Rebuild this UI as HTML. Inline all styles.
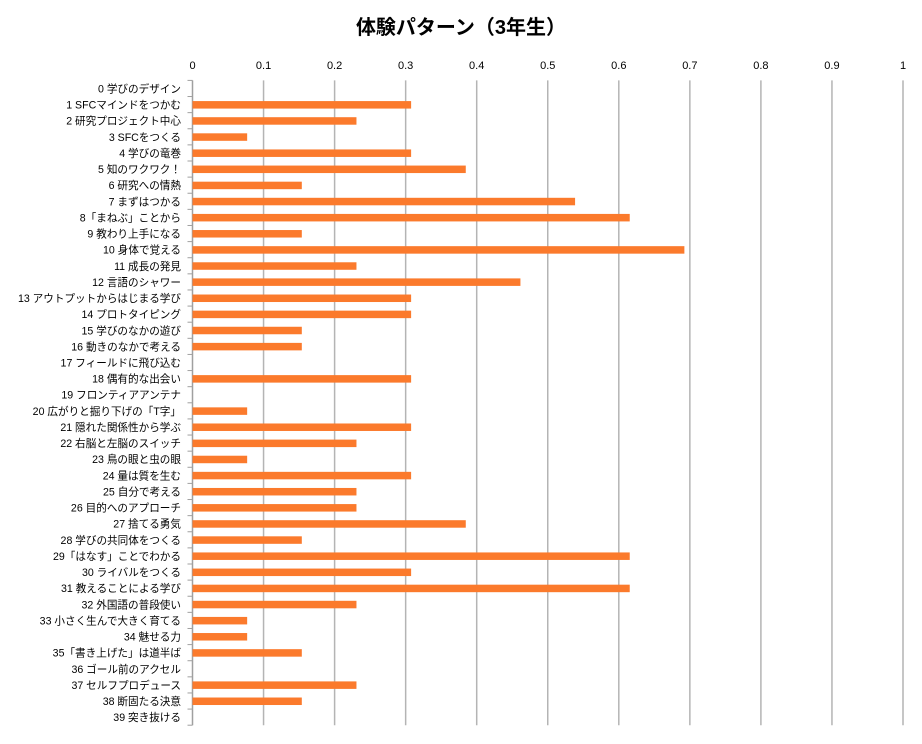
<!DOCTYPE html>
<html><head><meta charset="utf-8"><style>
body{margin:0;background:#fff;}
text{font-family:"Liberation Sans","Noto Sans CJK JP",sans-serif;}
</style></head><body>
<svg id="svg" width="922" height="739" xmlns="http://www.w3.org/2000/svg">
<rect width="922" height="739" fill="#fff"/>
<text x="461" y="34" text-anchor="middle" font-size="20" font-weight="bold" fill="#000">体験パターン（3年生）</text>
</svg>
<script>
(function(){
const labels=["0  学びのデザイン","1  SFCマインドをつかむ","2  研究プロジェクト中心","3  SFCをつくる","4  学びの竜巻","5  知のワクワク！","6  研究への情熱","7  まずはつかる","8「まねぶ」ことから","9  教わり上手になる","10 身体で覚える","11 成長の発見","12 言語のシャワー","13 アウトプットからはじまる学び","14 プロトタイピング","15 学びのなかの遊び","16 動きのなかで考える","17 フィールドに飛び込む","18 偶有的な出会い","19 フロンティアアンテナ","20 広がりと掘り下げの「T字」","21 隠れた関係性から学ぶ","22 右脳と左脳のスイッチ","23 鳥の眼と虫の眼","24 量は質を生む","25 自分で考える","26 目的へのアプローチ","27 捨てる勇気","28 学びの共同体をつくる","29「はなす」ことでわかる","30 ライバルをつくる","31 教えることによる学び","32 外国語の普段使い","33 小さく生んで大きく育てる","34 魅せる力","35「書き上げた」は道半ば","36 ゴール前のアクセル","37 セルフプロデュース","38 断固たる決意","39 突き抜ける"];
const v=[0,4,3,1,4,5,2,7,8,2,9,3,6,4,4,2,2,0,4,0,1,4,3,1,4,3,3,5,2,8,4,8,3,1,1,2,0,3,2,0];
const x0=192.5,W=710.5,T=80.4,step=16.12,B=T+40*step;
let s="";
for(let i=0;i<=10;i++){const x=x0+W*i/10;
 if(i>0)s+=`<line x1="${x}" y1="${T}" x2="${x}" y2="${B}" stroke="#b4b4b4" stroke-width="1.5"/>`;
 s+=`<text x="${x}" y="69" text-anchor="middle" font-size="11">${i==0?"0":i==10?"1":"0."+i}</text>`;}
s+=`<line x1="${x0}" y1="${T}" x2="${x0}" y2="${B}" stroke="#a0a0a0" stroke-width="1.5"/>`;
for(let i=0;i<=40;i++){const y=T+i*step;s+=`<line x1="${x0-5}" y1="${y}" x2="${x0}" y2="${y}" stroke="#a0a0a0"/>`;}
labels.forEach((l,i)=>{const c=T+(i+0.5)*step;
 s+=`<text x="181" y="${c+4}" text-anchor="end" font-size="10.6">${l}</text>`;
 if(v[i])s+=`<rect x="${x0}" y="${c-3.5}" width="${W*v[i]/13}" height="7.5" fill="#fb7a2c"/>`;});
const g=document.createElementNS("http://www.w3.org/2000/svg","g");
g.innerHTML=s;
document.getElementById("svg").appendChild(g);
})();
</script>
</body></html>
